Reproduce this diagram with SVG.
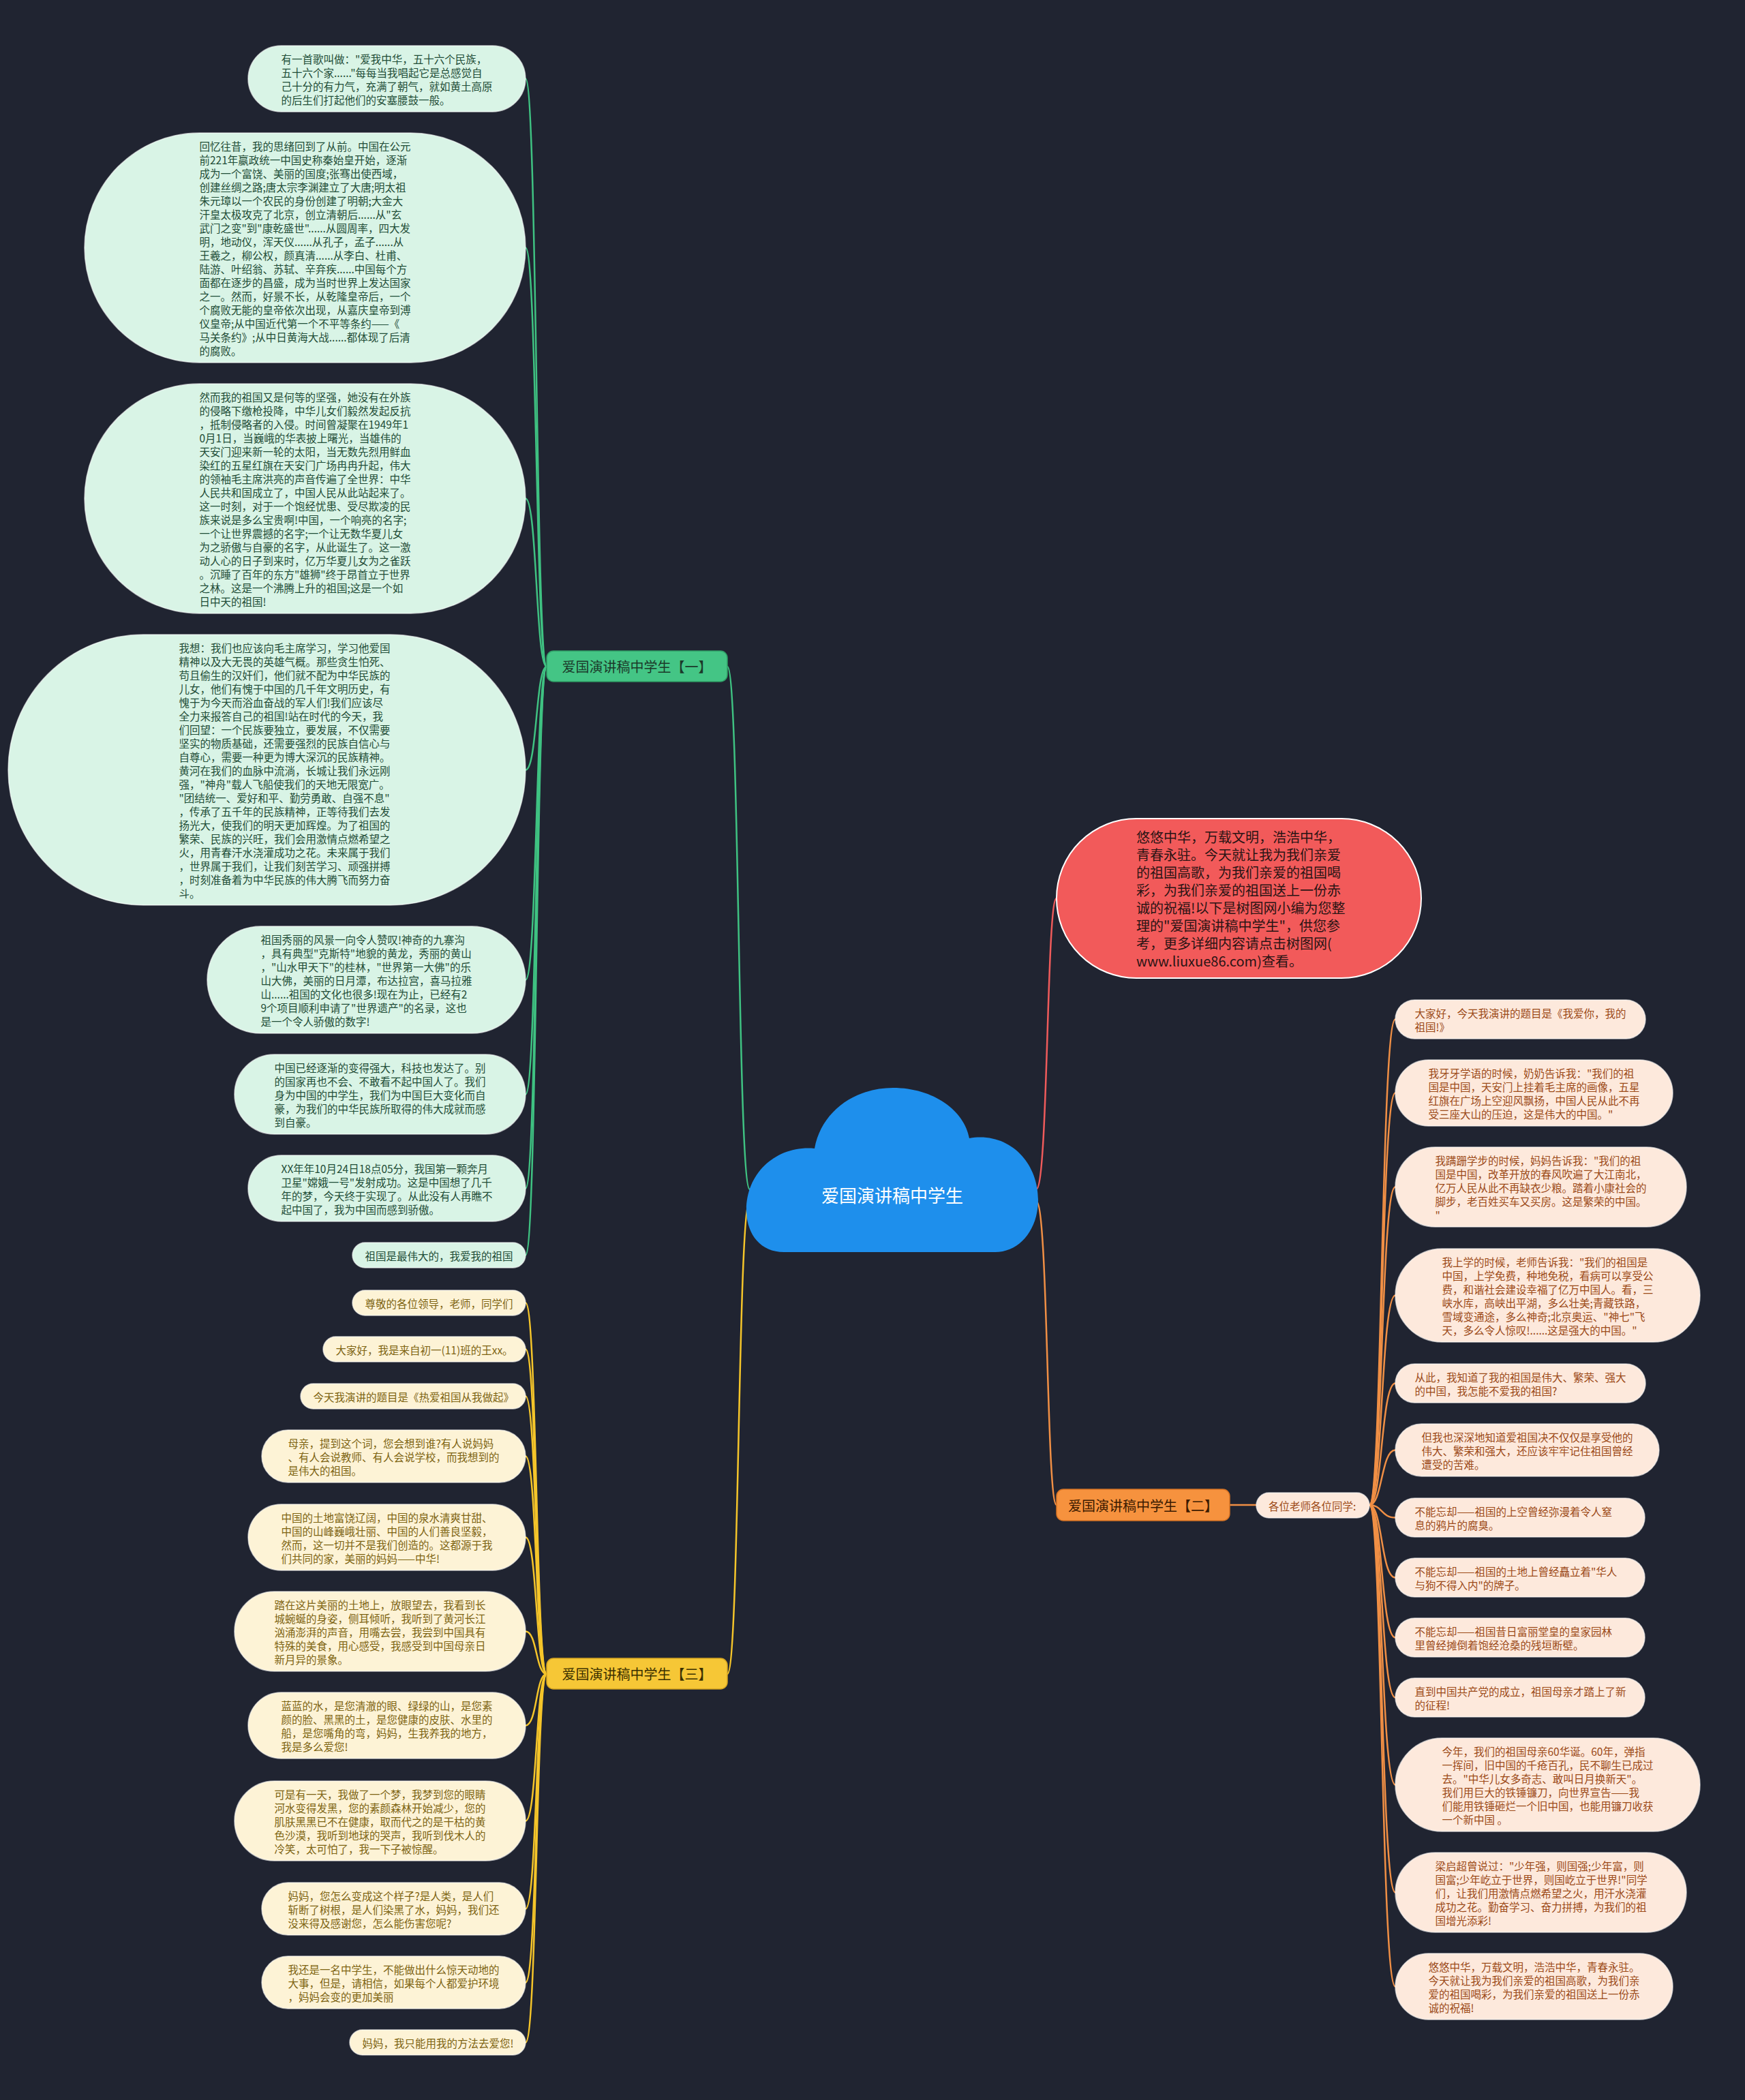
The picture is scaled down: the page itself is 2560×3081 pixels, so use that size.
<svg xmlns="http://www.w3.org/2000/svg" width="2560" height="3081" viewBox="0 0 2560 3081">
<style>
text{font-family:"Noto Sans CJK SC","Noto Sans",sans-serif;dominant-baseline:central}
.t{font-size:15.5px}
.g rect{fill:#d9f4e6;stroke:#ffffff;stroke-opacity:.6;stroke-width:1.5}
.g text{fill:#1f4d37}
.y rect{fill:#fdf3d6;stroke:#ffffff;stroke-opacity:.6;stroke-width:1.5}
.y text{fill:#7d6412}
.o rect{fill:#fde9dc;stroke:#ffffff;stroke-opacity:.6;stroke-width:1.5}
.o text{fill:#9c4a18}
.lg{stroke:#3fc282;fill:none;stroke-width:2.5}
.ly{stroke:#f5c52a;fill:none;stroke-width:2.5}
.lo{stroke:#f08f45;fill:none;stroke-width:2.5}
.lr{stroke:#ef5b5b;fill:none;stroke-width:2.5}
.b text{font-size:20px;text-anchor:middle}
</style>
<rect width="2560" height="3081" fill="#202431"/>

<g id="connectors">
<path class="lg" d="M1100 1745 C1082 1745 1085 978 1067 978"/>
<path class="ly" d="M1100 1762 C1082 1762 1085 2456 1067 2456"/>
<path class="lr" d="M1520 1745 C1538 1745 1535 1318 1550 1318"/>
<path class="lo" d="M1520 1762 C1538 1762 1535 2208 1550 2208"/>
<path class="lo" d="M1804 2208 L1843 2208"/>
<path class="lg" d="M802 978 C786 978 788 115.5 771 115.5"/>
<path class="lg" d="M802 978 C786 978 788 363.5 771 363.5"/>
<path class="lg" d="M802 978 C786 978 788 731.5 771 731.5"/>
<path class="lg" d="M802 978 C786 978 788 1129.5 771 1129.5"/>
<path class="lg" d="M802 978 C786 978 788 1437.5 771 1437.5"/>
<path class="lg" d="M802 978 C786 978 788 1605.5 771 1605.5"/>
<path class="lg" d="M802 978 C786 978 788 1743.5 771 1743.5"/>
<path class="lg" d="M802 978 C786 978 788 1841.5 771 1841.5"/>
<path class="ly" d="M802 2456 C786 2456 788 1911.5 771 1911.5"/>
<path class="ly" d="M802 2456 C786 2456 788 1979.5 771 1979.5"/>
<path class="ly" d="M802 2456 C786 2456 788 2048.5 771 2048.5"/>
<path class="ly" d="M802 2456 C786 2456 788 2136.5 771 2136.5"/>
<path class="ly" d="M802 2456 C786 2456 788 2255.5 771 2255.5"/>
<path class="ly" d="M802 2456 C786 2456 788 2393.5 771 2393.5"/>
<path class="ly" d="M802 2456 C786 2456 788 2531.5 771 2531.5"/>
<path class="ly" d="M802 2456 C786 2456 788 2671.5 771 2671.5"/>
<path class="ly" d="M802 2456 C786 2456 788 2800.5 771 2800.5"/>
<path class="ly" d="M802 2456 C786 2456 788 2908.5 771 2908.5"/>
<path class="ly" d="M802 2456 C786 2456 788 2996.5 771 2996.5"/>
<path class="lo" d="M2009 2208 C2028 2208 2026 1495.5 2047 1495.5"/>
<path class="lo" d="M2009 2208 C2028 2208 2026 1603.5 2047 1603.5"/>
<path class="lo" d="M2009 2208 C2028 2208 2026 1741.5 2047 1741.5"/>
<path class="lo" d="M2009 2208 C2028 2208 2026 1900.5 2047 1900.5"/>
<path class="lo" d="M2009 2208 C2028 2208 2026 2029.5 2047 2029.5"/>
<path class="lo" d="M2009 2208 C2028 2208 2026 2127.5 2047 2127.5"/>
<path class="lo" d="M2009 2208 C2028 2208 2026 2226.5 2047 2226.5"/>
<path class="lo" d="M2009 2208 C2028 2208 2026 2314.5 2047 2314.5"/>
<path class="lo" d="M2009 2208 C2028 2208 2026 2402.5 2047 2402.5"/>
<path class="lo" d="M2009 2208 C2028 2208 2026 2490.5 2047 2490.5"/>
<path class="lo" d="M2009 2208 C2028 2208 2026 2618.5 2047 2618.5"/>
<path class="lo" d="M2009 2208 C2028 2208 2026 2776.5 2047 2776.5"/>
<path class="lo" d="M2009 2208 C2028 2208 2026 2914.5 2047 2914.5"/>
</g>

<g id="center">
<path d="M1150 1837 C1115 1837 1095 1810 1095 1775 C1095 1720 1140 1680 1195 1685 C1205 1630 1255 1596 1310 1596 C1370 1596 1415 1630 1422 1670 C1480 1660 1523 1705 1523 1760 C1523 1805 1495 1837 1460 1837 Z" fill="#1e8fec"/>
<text x="1309" y="1752" font-size="26" fill="#ffffff" text-anchor="middle">爱国演讲稿中学生</text>
</g>

<g id="intro">
<rect x="1550" y="1201" width="535" height="234" rx="117" fill="#f25a5a" stroke="#ffffff" stroke-width="2"/>
<text font-size="20" fill="#2a1414"><tspan x="1667" y="1227">悠悠中华，万载文明，浩浩中华，</tspan><tspan x="1667" y="1253">青春永驻。今天就让我为我们亲爱</tspan><tspan x="1667" y="1279">的祖国高歌，为我们亲爱的祖国喝</tspan><tspan x="1667" y="1305">彩，为我们亲爱的祖国送上一份赤</tspan><tspan x="1667" y="1331">诚的祝福!以下是树图网小编为您整</tspan><tspan x="1667" y="1357">理的"爱国演讲稿中学生"，供您参</tspan><tspan x="1667" y="1383">考，更多详细内容请点击树图网(</tspan><tspan x="1667" y="1409">www.liuxue86.com)查看。</tspan></text>
</g>

<g id="branch1" class="b">
<rect x="802" y="955" width="265" height="45" rx="10" fill="#44c585" stroke="#2f9e66" stroke-width="1.5"/>
<text x="934.5" y="977.5" fill="#1b3a2a">爱国演讲稿中学生【一】</text>
</g>
<g id="branch3" class="b">
<rect x="802" y="2433" width="265" height="45" rx="10" fill="#f6c736" stroke="#d6a520" stroke-width="1.5"/>
<text x="934.5" y="2455.5" fill="#3b3000">爱国演讲稿中学生【三】</text>
</g>
<g id="branch2" class="b">
<rect x="1550" y="2185" width="254" height="46" rx="10" fill="#f6923e" stroke="#d87425" stroke-width="1.5"/>
<text x="1677" y="2208" fill="#3b1a00">爱国演讲稿中学生【二】</text>
</g>
<g id="sub2" class="o">
<rect x="1843" y="2190" width="166" height="37" rx="18.5"/>
<text class="t" x="1861" y="2208.5">各位老师各位同学:</text>
</g>

<g id="g1" class="g"><rect x="364" y="67" width="407" height="97" rx="48.5"/><text class="t"><tspan x="412.5" y="85.5">有一首歌叫做："爱我中华，五十六个民族，</tspan><tspan x="412.5" y="105.5">五十六个家......"每每当我唱起它是总感觉自</tspan><tspan x="412.5" y="125.5">己十分的有力气，充满了朝气，就如黄土高原</tspan><tspan x="412.5" y="145.5">的后生们打起他们的安塞腰鼓一般。</tspan></text></g>

<g id="g2" class="g"><rect x="124" y="195" width="647" height="337" rx="168.5"/><text class="t"><tspan x="292.5" y="213.5">回忆往昔，我的思绪回到了从前。中国在公元</tspan><tspan x="292.5" y="233.5">前221年嬴政统一中国史称秦始皇开始，逐渐</tspan><tspan x="292.5" y="253.5">成为一个富饶、美丽的国度;张骞出使西域，</tspan><tspan x="292.5" y="273.5">创建丝绸之路;唐太宗李渊建立了大唐;明太祖</tspan><tspan x="292.5" y="293.5">朱元璋以一个农民的身份创建了明朝;大金大</tspan><tspan x="292.5" y="313.5">汗皇太极攻克了北京，创立清朝后......从"玄</tspan><tspan x="292.5" y="333.5">武门之变"到"康乾盛世"......从圆周率，四大发</tspan><tspan x="292.5" y="353.5">明，地动仪，浑天仪......从孔子，孟子......从</tspan><tspan x="292.5" y="373.5">王羲之，柳公权，颜真清......从李白、杜甫、</tspan><tspan x="292.5" y="393.5">陆游、叶绍翁、苏轼、辛弃疾......中国每个方</tspan><tspan x="292.5" y="413.5">面都在逐步的昌盛，成为当时世界上发达国家</tspan><tspan x="292.5" y="433.5">之一。然而，好景不长，从乾隆皇帝后，一个</tspan><tspan x="292.5" y="453.5">个腐败无能的皇帝依次出现，从嘉庆皇帝到溥</tspan><tspan x="292.5" y="473.5">仪皇帝;从中国近代第一个不平等条约——《</tspan><tspan x="292.5" y="493.5">马关条约》;从中日黄海大战......都体现了后清</tspan><tspan x="292.5" y="513.5">的腐败。</tspan></text></g>

<g id="g3" class="g"><rect x="124" y="563" width="647" height="337" rx="168.5"/><text class="t"><tspan x="292.5" y="581.5">然而我的祖国又是何等的坚强，她没有在外族</tspan><tspan x="292.5" y="601.5">的侵略下缴枪投降，中华儿女们毅然发起反抗</tspan><tspan x="292.5" y="621.5">，抵制侵略者的入侵。时间曾凝聚在1949年1</tspan><tspan x="292.5" y="641.5">0月1日，当巍峨的华表披上曙光，当雄伟的</tspan><tspan x="292.5" y="661.5">天安门迎来新一轮的太阳，当无数先烈用鲜血</tspan><tspan x="292.5" y="681.5">染红的五星红旗在天安门广场冉冉升起，伟大</tspan><tspan x="292.5" y="701.5">的领袖毛主席洪亮的声音传遍了全世界：中华</tspan><tspan x="292.5" y="721.5">人民共和国成立了，中国人民从此站起来了。</tspan><tspan x="292.5" y="741.5">这一时刻，对于一个饱经忧患、受尽欺凌的民</tspan><tspan x="292.5" y="761.5">族来说是多么宝贵啊!中国，一个响亮的名字;</tspan><tspan x="292.5" y="781.5">一个让世界震撼的名字;一个让无数华夏儿女</tspan><tspan x="292.5" y="801.5">为之骄傲与自豪的名字，从此诞生了。这一激</tspan><tspan x="292.5" y="821.5">动人心的日子到来时，亿万华夏儿女为之雀跃</tspan><tspan x="292.5" y="841.5">。沉睡了百年的东方"雄狮"终于昂首立于世界</tspan><tspan x="292.5" y="861.5">之林。这是一个沸腾上升的祖国;这是一个如</tspan><tspan x="292.5" y="881.5">日中天的祖国!</tspan></text></g>

<g id="g4" class="g"><rect x="12" y="931" width="759" height="397" rx="198.5"/><text class="t"><tspan x="262.5" y="949.5">我想：我们也应该向毛主席学习，学习他爱国</tspan><tspan x="262.5" y="969.5">精神以及大无畏的英雄气概。那些贪生怕死、</tspan><tspan x="262.5" y="989.5">苟且偷生的汉奸们，他们就不配为中华民族的</tspan><tspan x="262.5" y="1009.5">儿女，他们有愧于中国的几千年文明历史，有</tspan><tspan x="262.5" y="1029.5">愧于为今天而浴血奋战的军人们!我们应该尽</tspan><tspan x="262.5" y="1049.5">全力来报答自己的祖国!站在时代的今天，我</tspan><tspan x="262.5" y="1069.5">们回望：一个民族要独立，要发展，不仅需要</tspan><tspan x="262.5" y="1089.5">坚实的物质基础，还需要强烈的民族自信心与</tspan><tspan x="262.5" y="1109.5">自尊心，需要一种更为博大深沉的民族精神。</tspan><tspan x="262.5" y="1129.5">黄河在我们的血脉中流淌，长城让我们永远刚</tspan><tspan x="262.5" y="1149.5">强，"神舟"载人飞船使我们的天地无限宽广。</tspan><tspan x="262.5" y="1169.5">"团结统一、爱好和平、勤劳勇敢、自强不息"</tspan><tspan x="262.5" y="1189.5">，传承了五千年的民族精神，正等待我们去发</tspan><tspan x="262.5" y="1209.5">扬光大，使我们的明天更加辉煌。为了祖国的</tspan><tspan x="262.5" y="1229.5">繁荣、民族的兴旺，我们会用激情点燃希望之</tspan><tspan x="262.5" y="1249.5">火，用青春汗水浇灌成功之花。未来属于我们</tspan><tspan x="262.5" y="1269.5">，世界属于我们，让我们刻苦学习、顽强拼搏</tspan><tspan x="262.5" y="1289.5">，时刻准备着为中华民族的伟大腾飞而努力奋</tspan><tspan x="262.5" y="1309.5">斗。</tspan></text></g>

<g id="g5" class="g"><rect x="304" y="1359" width="467" height="157" rx="78.5"/><text class="t"><tspan x="382.5" y="1377.5">祖国秀丽的风景一向令人赞叹!神奇的九寨沟</tspan><tspan x="382.5" y="1397.5">，具有典型"克斯特"地貌的黄龙，秀丽的黄山</tspan><tspan x="382.5" y="1417.5">，"山水甲天下"的桂林，"世界第一大佛"的乐</tspan><tspan x="382.5" y="1437.5">山大佛，美丽的日月潭，布达拉宫，喜马拉雅</tspan><tspan x="382.5" y="1457.5">山......祖国的文化也很多!现在为止，已经有2</tspan><tspan x="382.5" y="1477.5">9个项目顺利申请了"世界遗产"的名录，这也</tspan><tspan x="382.5" y="1497.5">是一个令人骄傲的数字!</tspan></text></g>

<g id="g6" class="g"><rect x="344" y="1547" width="427" height="117" rx="58.5"/><text class="t"><tspan x="402.5" y="1565.5">中国已经逐渐的变得强大，科技也发达了。别</tspan><tspan x="402.5" y="1585.5">的国家再也不会、不敢看不起中国人了。我们</tspan><tspan x="402.5" y="1605.5">身为中国的中学生，我们为中国巨大变化而自</tspan><tspan x="402.5" y="1625.5">豪，为我们的中华民族所取得的伟大成就而感</tspan><tspan x="402.5" y="1645.5">到自豪。</tspan></text></g>

<g id="g7" class="g"><rect x="364" y="1695" width="407" height="97" rx="48.5"/><text class="t"><tspan x="412.5" y="1713.5">XX年年10月24日18点05分，我国第一颗奔月</tspan><tspan x="412.5" y="1733.5">卫星"嫦娥一号"发射成功。这是中国想了几千</tspan><tspan x="412.5" y="1753.5">年的梦，今天终于实现了。从此没有人再瞧不</tspan><tspan x="412.5" y="1773.5">起中国了，我为中国而感到骄傲。</tspan></text></g>

<g id="g8" class="g"><rect x="517" y="1823" width="254" height="37" rx="18.5"/><text class="t" x="535.5" y="1841.5">祖国是最伟大的，我爱我的祖国</text></g>

<g id="y1" class="y"><rect x="517" y="1893" width="254" height="37" rx="18.5"/><text class="t" x="535.5" y="1911.5">尊敬的各位领导，老师，同学们</text></g>
<g id="y2" class="y"><rect x="474" y="1961" width="297" height="37" rx="18.5"/><text class="t" x="492.5" y="1979.5">大家好，我是来自初一(11)班的王xx。</text></g>
<g id="y3" class="y"><rect x="441" y="2030" width="330" height="37" rx="18.5"/><text class="t" x="459.5" y="2048.5">今天我演讲的题目是《热爱祖国从我做起》</text></g>
<g id="y4" class="y"><rect x="384" y="2098" width="387" height="77" rx="38.5"/><text class="t"><tspan x="422.5" y="2116.5">母亲，提到这个词，您会想到谁?有人说妈妈</tspan><tspan x="422.5" y="2136.5">、有人会说教师、有人会说学校，而我想到的</tspan><tspan x="422.5" y="2156.5">是伟大的祖国。</tspan></text></g>
<g id="y5" class="y"><rect x="364" y="2207" width="407" height="97" rx="48.5"/><text class="t"><tspan x="412.5" y="2225.5">中国的土地富饶辽阔，中国的泉水清爽甘甜、</tspan><tspan x="412.5" y="2245.5">中国的山峰巍峨壮丽、中国的人们善良坚毅，</tspan><tspan x="412.5" y="2265.5">然而，这一切并不是我们创造的。这都源于我</tspan><tspan x="412.5" y="2285.5">们共同的家，美丽的妈妈——中华!</tspan></text></g>
<g id="y6" class="y"><rect x="344" y="2335" width="427" height="117" rx="58.5"/><text class="t"><tspan x="402.5" y="2353.5">踏在这片美丽的土地上，放眼望去，我看到长</tspan><tspan x="402.5" y="2373.5">城蜿蜒的身姿，侧耳倾听，我听到了黄河长江</tspan><tspan x="402.5" y="2393.5">汹涌澎湃的声音，用嘴去尝，我尝到中国具有</tspan><tspan x="402.5" y="2413.5">特殊的美食，用心感受，我感受到中国母亲日</tspan><tspan x="402.5" y="2433.5">新月异的景象。</tspan></text></g>
<g id="y7" class="y"><rect x="364" y="2483" width="407" height="97" rx="48.5"/><text class="t"><tspan x="412.5" y="2501.5">蓝蓝的水，是您清澈的眼、绿绿的山，是您素</tspan><tspan x="412.5" y="2521.5">颜的脸、黑黑的土，是您健康的皮肤、水里的</tspan><tspan x="412.5" y="2541.5">船，是您嘴角的弯，妈妈，生我养我的地方，</tspan><tspan x="412.5" y="2561.5">我是多么爱您!</tspan></text></g>
<g id="y8" class="y"><rect x="344" y="2613" width="427" height="117" rx="58.5"/><text class="t"><tspan x="402.5" y="2631.5">可是有一天，我做了一个梦，我梦到您的眼睛</tspan><tspan x="402.5" y="2651.5">河水变得发黑，您的素颜森林开始减少，您的</tspan><tspan x="402.5" y="2671.5">肌肤黑黑已不在健康，取而代之的是干枯的黄</tspan><tspan x="402.5" y="2691.5">色沙漠，我听到地球的哭声，我听到伐木人的</tspan><tspan x="402.5" y="2711.5">冷笑，太可怕了，我一下子被惊醒。</tspan></text></g>
<g id="y9" class="y"><rect x="384" y="2762" width="387" height="77" rx="38.5"/><text class="t"><tspan x="422.5" y="2780.5">妈妈，您怎么变成这个样子?是人类，是人们</tspan><tspan x="422.5" y="2800.5">斩断了树根，是人们染黑了水，妈妈，我们还</tspan><tspan x="422.5" y="2820.5">没来得及感谢您，怎么能伤害您呢?</tspan></text></g>
<g id="y10" class="y"><rect x="384" y="2870" width="387" height="77" rx="38.5"/><text class="t"><tspan x="422.5" y="2888.5">我还是一名中学生，不能做出什么惊天动地的</tspan><tspan x="422.5" y="2908.5">大事，但是，请相信，如果每个人都爱护环境</tspan><tspan x="422.5" y="2928.5">，妈妈会变的更加美丽</tspan></text></g>
<g id="y11" class="y"><rect x="513" y="2978" width="258" height="37" rx="18.5"/><text class="t" x="531.5" y="2996.5">妈妈，我只能用我的方法去爱您!</text></g>

<g id="o1" class="o"><rect x="2047" y="1467" width="367" height="57" rx="28.5"/><text class="t"><tspan x="2075.5" y="1485.5">大家好，今天我演讲的题目是《我爱你，我的</tspan><tspan x="2075.5" y="1505.5">祖国!》</tspan></text></g>
<g id="o2" class="o"><rect x="2047" y="1555" width="407" height="97" rx="48.5"/><text class="t"><tspan x="2095.5" y="1573.5">我牙牙学语的时候，奶奶告诉我："我们的祖</tspan><tspan x="2095.5" y="1593.5">国是中国，天安门上挂着毛主席的画像，五星</tspan><tspan x="2095.5" y="1613.5">红旗在广场上空迎风飘扬，中国人民从此不再</tspan><tspan x="2095.5" y="1633.5">受三座大山的压迫，这是伟大的中国。"</tspan></text></g>
<g id="o3" class="o"><rect x="2047" y="1683" width="427" height="117" rx="58.5"/><text class="t"><tspan x="2105.5" y="1701.5">我蹒跚学步的时候，妈妈告诉我："我们的祖</tspan><tspan x="2105.5" y="1721.5">国是中国，改革开放的春风吹遍了大江南北，</tspan><tspan x="2105.5" y="1741.5">亿万人民从此不再缺衣少粮。踏着小康社会的</tspan><tspan x="2105.5" y="1761.5">脚步，老百姓买车又买房。这是繁荣的中国。</tspan><tspan x="2105.5" y="1781.5">"</tspan></text></g>
<g id="o4" class="o"><rect x="2047" y="1832" width="447" height="137" rx="68.5"/><text class="t"><tspan x="2115.5" y="1850.5">我上学的时候，老师告诉我："我们的祖国是</tspan><tspan x="2115.5" y="1870.5">中国，上学免费，种地免税，看病可以享受公</tspan><tspan x="2115.5" y="1890.5">费，和谐社会建设幸福了亿万中国人。看，三</tspan><tspan x="2115.5" y="1910.5">峡水库，高峡出平湖，多么壮美;青藏铁路，</tspan><tspan x="2115.5" y="1930.5">雪域变通途，多么神奇;北京奥运、"神七"飞</tspan><tspan x="2115.5" y="1950.5">天，多么令人惊叹!......这是强大的中国。"</tspan></text></g>
<g id="o5" class="o"><rect x="2047" y="2001" width="367" height="57" rx="28.5"/><text class="t"><tspan x="2075.5" y="2019.5">从此，我知道了我的祖国是伟大、繁荣、强大</tspan><tspan x="2075.5" y="2039.5">的中国，我怎能不爱我的祖国?</tspan></text></g>
<g id="o6" class="o"><rect x="2047" y="2089" width="387" height="77" rx="38.5"/><text class="t"><tspan x="2085.5" y="2107.5">但我也深深地知道爱祖国决不仅仅是享受他的</tspan><tspan x="2085.5" y="2127.5">伟大、繁荣和强大，还应该牢牢记住祖国曾经</tspan><tspan x="2085.5" y="2147.5">遭受的苦难。</tspan></text></g>
<g id="o7" class="o"><rect x="2047" y="2198" width="366" height="57" rx="28.5"/><text class="t"><tspan x="2075.5" y="2216.5">不能忘却——祖国的上空曾经弥漫着令人窒</tspan><tspan x="2075.5" y="2236.5">息的鸦片的腐臭。</tspan></text></g>
<g id="o8" class="o"><rect x="2047" y="2286" width="366" height="57" rx="28.5"/><text class="t"><tspan x="2075.5" y="2304.5">不能忘却——祖国的土地上曾经矗立着"华人</tspan><tspan x="2075.5" y="2324.5">与狗不得入内"的牌子。</tspan></text></g>
<g id="o9" class="o"><rect x="2047" y="2374" width="366" height="57" rx="28.5"/><text class="t"><tspan x="2075.5" y="2392.5">不能忘却——祖国昔日富丽堂皇的皇家园林</tspan><tspan x="2075.5" y="2412.5">里曾经摊倒着饱经沧桑的残垣断壁。</tspan></text></g>
<g id="o10" class="o"><rect x="2047" y="2462" width="366" height="57" rx="28.5"/><text class="t"><tspan x="2075.5" y="2480.5">直到中国共产党的成立，祖国母亲才踏上了新</tspan><tspan x="2075.5" y="2500.5">的征程!</tspan></text></g>
<g id="o11" class="o"><rect x="2047" y="2550" width="447" height="137" rx="68.5"/><text class="t"><tspan x="2115.5" y="2568.5">今年，我们的祖国母亲60华诞。60年，弹指</tspan><tspan x="2115.5" y="2588.5">一挥间，旧中国的千疮百孔，民不聊生已成过</tspan><tspan x="2115.5" y="2608.5">去。"中华儿女多奇志、敢叫日月换新天"。</tspan><tspan x="2115.5" y="2628.5">我们用巨大的铁锤镰刀，向世界宣告——我</tspan><tspan x="2115.5" y="2648.5">们能用铁锤砸烂一个旧中国，也能用镰刀收获</tspan><tspan x="2115.5" y="2668.5">一个新中国 。</tspan></text></g>
<g id="o12" class="o"><rect x="2047" y="2718" width="427" height="117" rx="58.5"/><text class="t"><tspan x="2105.5" y="2736.5">梁启超曾说过："少年强，则国强;少年富，则</tspan><tspan x="2105.5" y="2756.5">国富;少年屹立于世界，则国屹立于世界!"同学</tspan><tspan x="2105.5" y="2776.5">们，让我们用激情点燃希望之火，用汗水浇灌</tspan><tspan x="2105.5" y="2796.5">成功之花。勤奋学习、奋力拼搏，为我们的祖</tspan><tspan x="2105.5" y="2816.5">国增光添彩!</tspan></text></g>
<g id="o13" class="o"><rect x="2047" y="2866" width="407" height="97" rx="48.5"/><text class="t"><tspan x="2095.5" y="2884.5">悠悠中华，万载文明，浩浩中华，青春永驻。</tspan><tspan x="2095.5" y="2904.5">今天就让我为我们亲爱的祖国高歌，为我们亲</tspan><tspan x="2095.5" y="2924.5">爱的祖国喝彩，为我们亲爱的祖国送上一份赤</tspan><tspan x="2095.5" y="2944.5">诚的祝福!</tspan></text></g>
</svg>
